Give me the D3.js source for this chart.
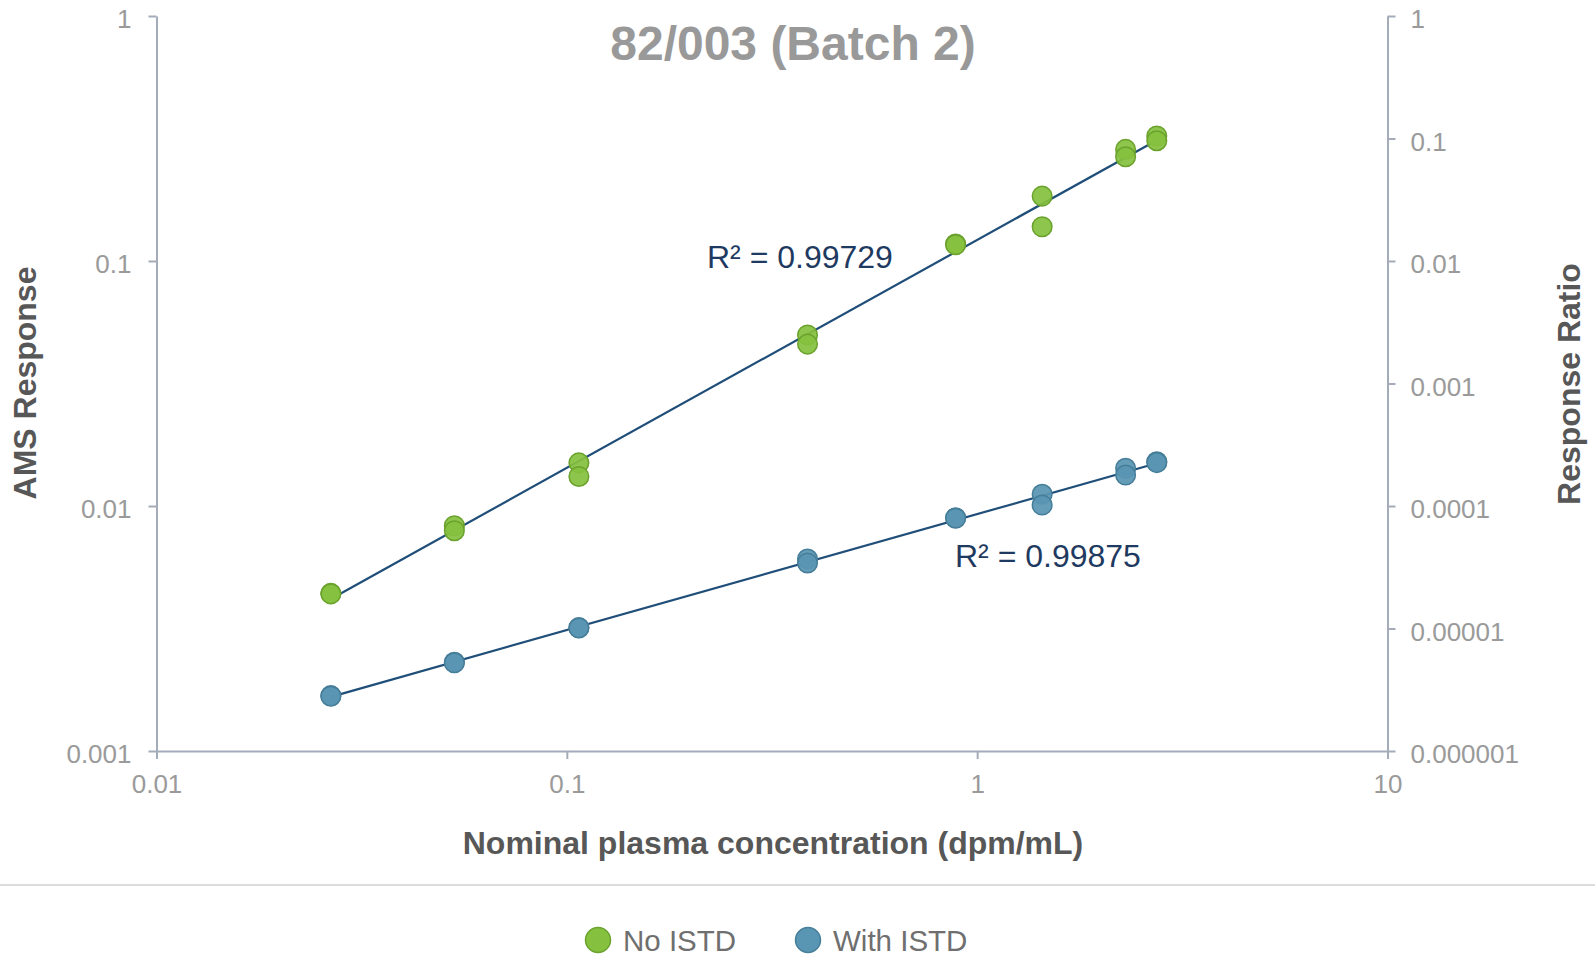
<!DOCTYPE html>
<html>
<head>
<meta charset="utf-8">
<script src="https://cdn.jsdelivr.net/npm/d3@7"></script>
<style>
  body { margin: 0; background: #fff; }
  svg text { font-family: "Liberation Sans", Arial, sans-serif; }
</style>
</head>
<body>
<div id="chart"></div>
<script>
// nominal concentrations (dpm/mL), two replicates each
const concentrations = [0.0266, 0.0266, 0.0532, 0.0532, 0.107, 0.107, 0.386, 0.386,
                        0.886, 0.886, 1.44, 1.44, 2.30, 2.30, 2.74, 2.74];
// AMS response, no internal standard (left axis)
const noIstd = [0.00440, 0.00438, 0.00831, 0.00793, 0.0150, 0.0132, 0.0499, 0.0458,
                0.1173, 0.1165, 0.184, 0.138, 0.2855, 0.2665, 0.3238, 0.3097];
// response ratio, with internal standard (right axis)
const withIstd = [2.83e-6, 2.80e-6, 5.30e-6, 5.25e-6, 1.016e-5, 1.01e-5, 3.69e-5, 3.43e-5,
                  8.02e-5, 7.95e-5, 1.246e-4, 1.019e-4, 2.03e-4, 1.79e-4, 2.30e-4, 2.26e-4];

const xTicks = [0.01, 0.1, 1, 10];
const xTickLabels = ["0.01", "0.1", "1", "10"];
const yLeftTicks = [0.001, 0.01, 0.1, 1];
const yLeftTickLabels = ["0.001", "0.01", "0.1", "1"];
const yRightTicks = [1e-6, 1e-5, 1e-4, 1e-3, 1e-2, 1e-1, 1];
const yRightTickLabels = ["0.000001", "0.00001", "0.0001", "0.001", "0.01", "0.1", "1"];

const r2Labels = ["R² = 0.99729", "R² = 0.99875"];
const seriesNames = ["No ISTD", "With ISTD"];

const W = 1595, H = 955;
const plot = { left: 156.5, right: 1387.5, top: 16, bottom: 751 };
const axisColor = "#a4abb9";
const tickColor = "#9a9a9a";

const svg = d3.select("#chart").append("svg")
  .attr("width", W)
  .attr("height", H);

const x = d3.scaleLog().domain([0.01, 10]).range([plot.left, plot.right]);
const yL = d3.scaleLog().domain([0.001, 1]).range([plot.bottom, plot.top]);
const yR = d3.scaleLog().domain([1e-6, 1]).range([plot.bottom, plot.top]);

// axes
function styleAxis(g) {
  g.select(".domain").attr("stroke", axisColor).attr("stroke-width", 2);
  g.selectAll(".tick line").attr("stroke", axisColor).attr("stroke-width", 2);
  g.selectAll(".tick text").attr("fill", tickColor).attr("font-size", 26);
}

svg.append("g")
  .attr("transform", `translate(${plot.left},0)`)
  .call(d3.axisLeft(yL).tickValues(yLeftTicks)
    .tickFormat((d, i) => yLeftTickLabels[i]).tickSize(8).tickSizeOuter(0).tickPadding(17))
  .call(styleAxis)
  .call(g => g.selectAll(".tick text").attr("dy", "0.45em"));

svg.append("g")
  .attr("transform", `translate(${plot.right},0)`)
  .call(d3.axisRight(yR).tickValues(yRightTicks)
    .tickFormat((d, i) => yRightTickLabels[i]).tickSize(8).tickSizeOuter(0).tickPadding(15))
  .call(styleAxis)
  .call(g => g.selectAll(".tick text").attr("dy", "0.45em"));

svg.append("g")
  .attr("transform", `translate(0,${plot.bottom})`)
  .call(d3.axisBottom(x).tickValues(xTicks)
    .tickFormat((d, i) => xTickLabels[i]).tickSize(8).tickSizeOuter(0).tickPadding(16))
  .call(styleAxis);

// power trendlines (least squares in log-log space)
function powerFit(xs, ys) {
  const lx = xs.map(Math.log10), ly = ys.map(Math.log10);
  const mx = d3.mean(lx), my = d3.mean(ly);
  const b = d3.sum(lx, (v, i) => (v - mx) * (ly[i] - my)) / d3.sum(lx, v => (v - mx) ** 2);
  const a = my - b * mx;
  return v => Math.pow(10, a + b * Math.log10(v));
}

const xExtent = d3.extent(concentrations);
const series = [
  { name: seriesNames[0], values: noIstd, y: yL, fill: "#85c13e", stroke: "#6ba22e" },
  { name: seriesNames[1], values: withIstd, y: yR, fill: "#5996b3", stroke: "#467e99" }
];

series.forEach(s => {
  const f = powerFit(concentrations, s.values);
  svg.append("line")
    .attr("x1", x(xExtent[0])).attr("y1", s.y(f(xExtent[0])))
    .attr("x2", x(xExtent[1])).attr("y2", s.y(f(xExtent[1])))
    .attr("stroke", "#1f4e79")
    .attr("stroke-width", 2.2);
});

series.forEach(s => {
  svg.append("g").selectAll("circle")
    .data(s.values)
    .enter().append("circle")
    .attr("cx", (d, i) => x(concentrations[i]))
    .attr("cy", d => s.y(d))
    .attr("r", 9.8)
    .attr("fill", s.fill)
    .attr("fill-opacity", 0.93)
    .attr("stroke", s.stroke)
    .attr("stroke-width", 1.5);
});

// R² labels
svg.append("text").attr("x", 707).attr("y", 268)
  .attr("font-size", 32).attr("fill", "#1f3a60").text(r2Labels[0]);
svg.append("text").attr("x", 955).attr("y", 567)
  .attr("font-size", 32).attr("fill", "#1f3a60").text(r2Labels[1]);

// title
svg.append("text")
  .attr("x", 793).attr("y", 60)
  .attr("text-anchor", "middle")
  .attr("font-size", 48).attr("font-weight", "bold").attr("fill", "#999")
  .text("82/003 (Batch 2)");

// axis titles
svg.append("text")
  .attr("transform", "translate(36,383) rotate(-90)")
  .attr("text-anchor", "middle")
  .attr("font-size", 32).attr("font-weight", "bold").attr("fill", "#575757")
  .text("AMS Response");

svg.append("text")
  .attr("transform", "translate(1580,384) rotate(-90)")
  .attr("text-anchor", "middle")
  .attr("font-size", 32).attr("font-weight", "bold").attr("fill", "#575757")
  .text("Response Ratio");

svg.append("text")
  .attr("x", 773).attr("y", 854)
  .attr("text-anchor", "middle")
  .attr("font-size", 32).attr("font-weight", "bold").attr("fill", "#575757")
  .text("Nominal plasma concentration (dpm/mL)");

// separator above legend
svg.append("line")
  .attr("x1", 0).attr("x2", W).attr("y1", 885).attr("y2", 885)
  .attr("stroke", "#dcdcdc").attr("stroke-width", 2);

// legend
const legendX = [598, 808];
const legend = svg.append("g").selectAll("g")
  .data(series)
  .enter().append("g")
  .attr("transform", (d, i) => `translate(${legendX[i]},940)`);

legend.append("circle")
  .attr("r", 12.5)
  .attr("fill", d => d.fill)
  .attr("stroke", d => d.stroke)
  .attr("stroke-width", 1.5);

legend.append("text")
  .attr("x", 25).attr("y", 10.5)
  .attr("font-size", 29.5).attr("fill", "#6f6f6f")
  .text(d => d.name);
</script>
</body>
</html>
